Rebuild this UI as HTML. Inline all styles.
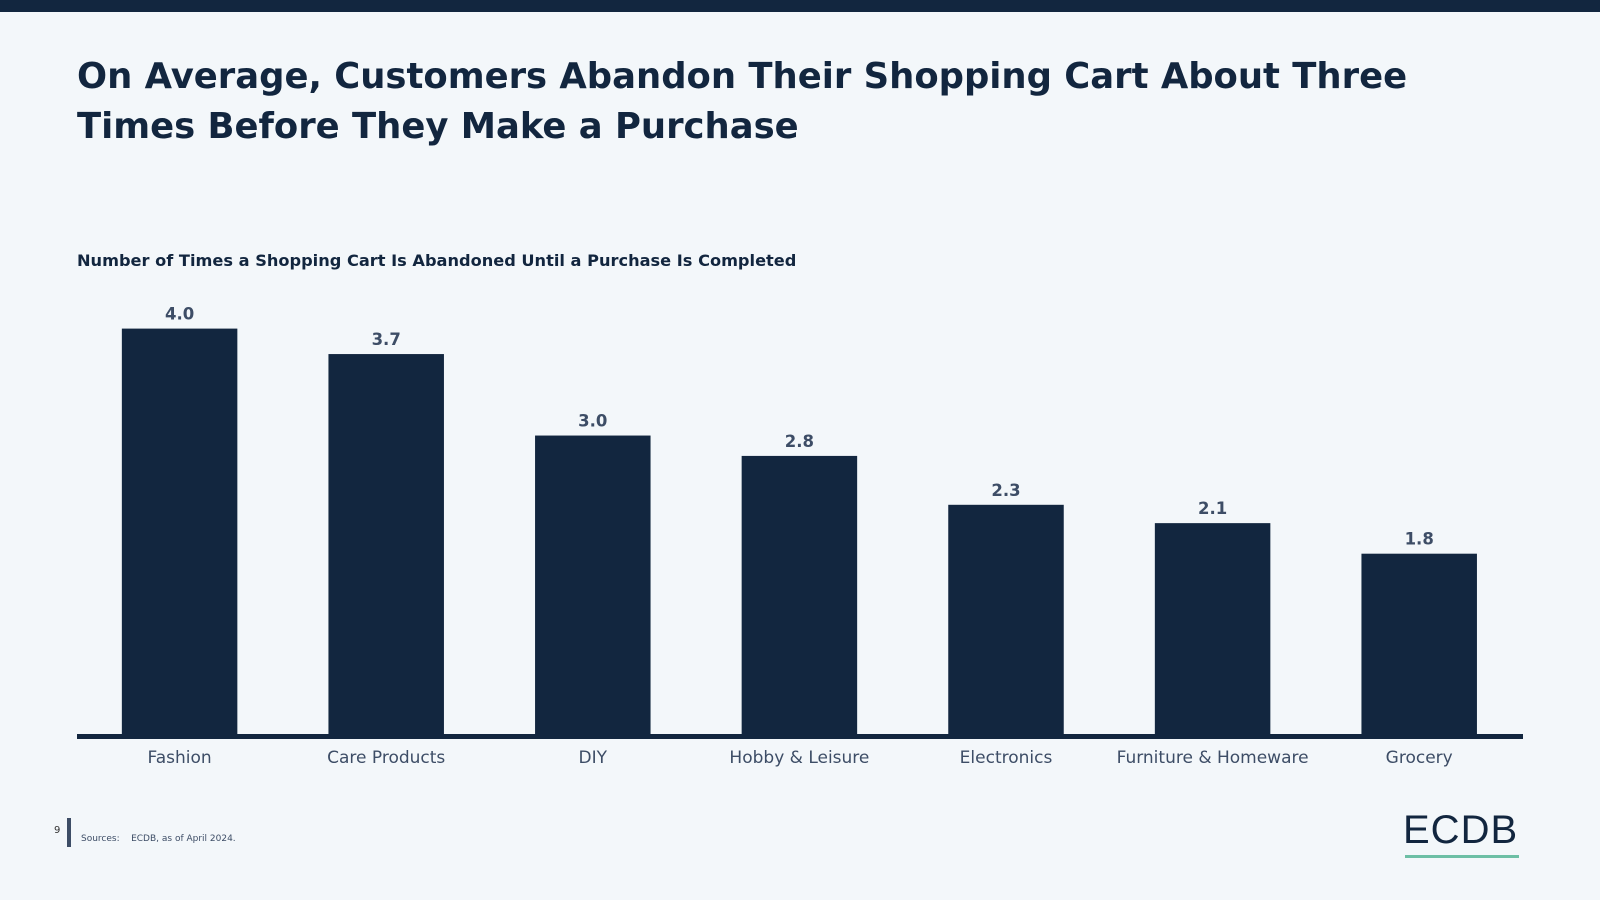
<!DOCTYPE html>
<html><head><meta charset="utf-8"><style>
body{margin:0;width:1600px;height:900px;background:#f3f7fa;position:relative;overflow:hidden;font-family:"DejaVu Sans","Liberation Sans",sans-serif;color:#12263f}
.abs{position:absolute}
</style></head><body>
<div class="abs" style="left:0;top:0;width:1600px;height:12px;background:#12263f"></div>
<div class="abs" style="left:77px;top:52px;font-size:35.4px;font-weight:bold;line-height:50px;width:1450px">On Average, Customers Abandon Their Shopping Cart About Three<br>Times Before They Make a Purchase</div>
<div class="abs" style="left:77px;top:251px;font-size:16.2px;font-weight:bold">Number of Times a Shopping Cart Is Abandoned Until a Purchase Is Completed</div>
<svg class="abs" style="left:0;top:0" width="1600" height="900" id="chart"></svg>
<div class="abs" style="left:54px;top:825px;font-size:10px;color:#333">9</div>
<div class="abs" style="left:67px;top:818px;width:4px;height:29px;background:#3d4d66"></div>
<div class="abs" style="left:81px;top:834px;font-size:9px;color:#3d4d66">Sources:&nbsp;&nbsp;&nbsp; ECDB, as of April 2024.</div>
<div class="abs" style="left:1403px;top:808px;font-family:'Liberation Sans',sans-serif;font-size:40px;letter-spacing:1px;color:#12263f">ECDB</div>
<div class="abs" style="left:1405px;top:855px;width:114px;height:3px;background:#6dbfa5"></div>
<script>
const categories=["Fashion","Care Products","DIY","Hobby & Leisure","Electronics","Furniture & Homeware","Grocery"];
const values=[4.0,3.75,2.95,2.75,2.27,2.09,1.79];
const labels=["4.0","3.7","3.0","2.8","2.3","2.1","1.8"];
const svg=document.getElementById('chart');const NS='http://www.w3.org/2000/svg';
const base=736,unit=101.85,first=179.6,step=206.6,bw=115.5;
const x=i=>first+i*step, y=v=>base-v*unit;
function mk(t,a){const e=document.createElementNS(NS,t);for(const k in a)e.setAttribute(k,a[k]);svg.appendChild(e);return e;}
values.forEach((v,i)=>{
 const r=mk('rect',{x:x(i)-bw/2,y:y(v),width:bw,height:base-y(v),fill:'#12263f'});
 
 
 const t=mk('text',{x:x(i),y:y(v)-9,'text-anchor':'middle','font-size':'16.5','font-weight':'bold',fill:'#3d4d66','font-family':'DejaVu Sans, sans-serif'});t.textContent=labels[i];
 
 
 const c=mk('text',{x:x(i),y:763,'text-anchor':'middle','font-size':'17',fill:'#3d4d66','font-family':'DejaVu Sans, sans-serif'});c.textContent=categories[i];
 
 
});
const ax=mk('rect',{x:77,y:734,width:1446,height:5,fill:'#12263f'});


</script>
</body></html>
